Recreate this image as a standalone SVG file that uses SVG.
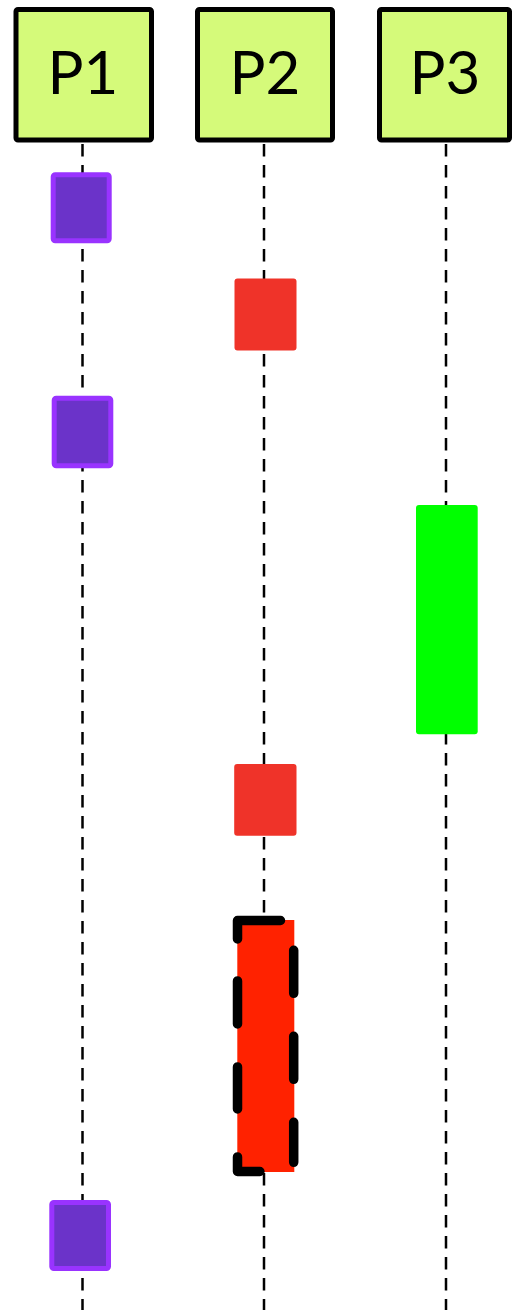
<svg xmlns="http://www.w3.org/2000/svg" width="512" height="1310" viewBox="0 0 512 1310">
<style>
.head{fill:#D5FA7A;stroke:#000;stroke-width:5}
.lbl{font-family:Lato,"Liberation Sans",sans-serif;font-size:60px;fill:#000;text-anchor:middle}
.life{stroke:#000;stroke-width:2.5;stroke-dasharray:12.5 8.5;fill:none}
.pur{fill:#6B33C9;stroke:#9933FF;stroke-width:5}
.red{fill:#EF3329}
.grn{fill:#00FF00}
</style>
<rect width="512" height="1310" fill="#fff"/>
<g id="connectors">
<line class="life" x1="82.5" y1="144" x2="82.5" y2="1310"/>
<line class="life" x1="264" y1="144" x2="264" y2="1310"/>
<line class="life" x1="446" y1="144" x2="446" y2="1310"/>
</g>
<g id="P1"><rect class="head" x="16" y="9.5" width="135.5" height="130.5" rx="2"/><text class="lbl" x="83" y="94">P1</text></g>
<g id="P2"><rect class="head" x="197.5" y="9.5" width="135" height="130.5" rx="2"/><text class="lbl" x="265" y="94">P2</text></g>
<g id="P3"><rect class="head" x="379.5" y="9.5" width="130" height="130.5" rx="2"/><text class="lbl" x="445" y="94">P3</text></g>
<g id="a1"><rect class="pur" x="53.2" y="174.8" width="56" height="66" rx="2"/></g>
<g id="b1"><rect class="red" x="234.5" y="278.5" width="62" height="72" rx="3"/></g>
<g id="a2"><rect class="pur" x="54.2" y="398.2" width="56.6" height="67.6" rx="2"/></g>
<g id="c1"><rect class="grn" x="416" y="505" width="61.7" height="229.3" rx="3"/></g>
<g id="b2"><rect class="red" x="234.2" y="764" width="62.3" height="71.7" rx="3"/></g>
<g id="b3">
<rect x="237.3" y="920" width="57" height="252" fill="#FF2200"/>
<path d="M237.5,920.5 H293.7 V1171.5 H237.5 Z" fill="none" stroke="#000" stroke-width="9.5" stroke-linecap="round" stroke-linejoin="round" stroke-dasharray="43 43 43 43 43 43 40 43 37 48 42 43 43 42 100"/>
</g>
<g id="a3"><rect class="pur" x="51.8" y="1202.5" width="56.7" height="66" rx="2"/></g>
</svg>
